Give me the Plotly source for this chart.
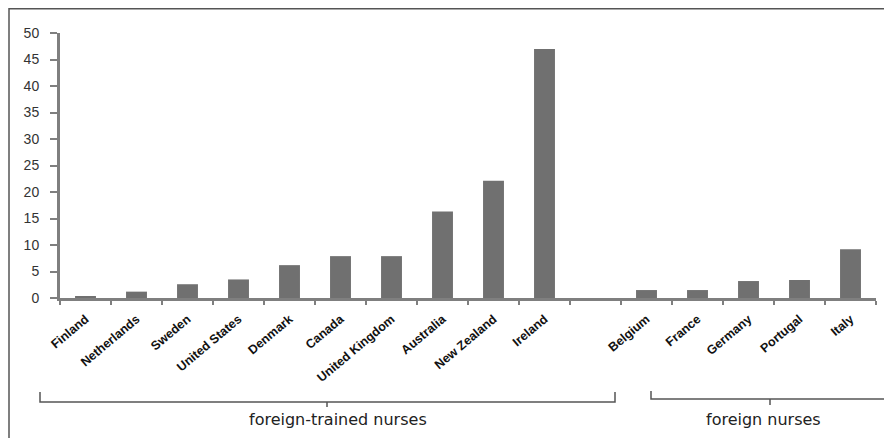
import plotly.graph_objects as go

# ---- data ----
countries = ["Finland", "Netherlands", "Sweden", "United States", "Denmark", "Canada",
             "United Kingdom", "Australia", "New Zealand", "Ireland", " ",
             "Belgium", "France", "Germany", "Portugal", "Italy"]
values = [0.3, 1.2, 2.6, 3.5, 6.2, 7.9, 7.9, 16.3, 22.1, 47.0, 0,
          1.5, 1.5, 3.2, 3.4, 9.2]
y_ticks = [0, 5, 10, 15, 20, 25, 30, 35, 40, 45, 50]
group_labels = ["foreign-trained nurses", "foreign nurses"]

# page has an 8px body margin; lay out in page coordinates and offset
OFF = 8
W, H = 892 - OFF, 438 - OFF
PL, PR, PT, PB = 60, 876, 33, 298          # plot area in page pixels
ML, MR, MT, MB = PL - OFF, (W + OFF) - PR, PT - OFF, (H + OFF) - PB
PW, PH = PR - PL, PB - PT


def px(x):
    return (x - PL) / PW


def py(y):
    return (PB - y) / PH


fig = go.Figure()
fig.add_trace(go.Bar(
    x=countries, y=values,
    marker=dict(color="#707070", line=dict(width=0)),
    hoverinfo="x+y",
))

AX = "#7f7f7f"
fig.update_layout(
    width=W, height=H,
    margin=dict(l=ML, r=MR, t=MT, b=MB),
    paper_bgcolor="white", plot_bgcolor="white",
    bargap=0.59,
    showlegend=False,
    xaxis=dict(
        type="category", categoryorder="array", categoryarray=countries,
        range=[-0.5, len(countries) - 0.5],
        tickson="boundaries", ticks="outside", ticklen=4, tickwidth=2, tickcolor=AX,
        showline=True, linecolor=AX, linewidth=3,
        showgrid=False, zeroline=False,
        tickangle=-40,
        ticklabelstandoff=6,
        tickfont=dict(family="Liberation Sans, Arial", size=12.5, color="#111"),
        tickprefix="<b>", ticksuffix="</b>",
    ),
    yaxis=dict(
        range=[0, 50], tickvals=y_ticks,
        ticks="outside", ticklen=7, tickwidth=2, tickcolor=AX,
        ticklabelstandoff=8,
        showline=True, linecolor=AX, linewidth=3,
        showgrid=False, zeroline=False,
        tickfont=dict(family="Liberation Sans, Arial", size=14, color="#333"),
    ),
)

shapes = []
# outer frame (extends beyond the right and bottom edges)
shapes.append(dict(type="rect", xref="paper", yref="paper",
                   x0=px(9), x1=px(897), y0=py(443), y1=py(8.8),
                   line=dict(color="#555", width=1.5), fillcolor="rgba(0,0,0,0)", layer="below"))


def bracket(x0, x1, xm, ytop, yline, ytick):
    p = (f"M {px(x0)},{py(ytop)} L {px(x0)},{py(yline)} L {px(x1)},{py(yline)} "
         f"L {px(x1)},{py(ytop)} M {px(xm)},{py(yline)} L {px(xm)},{py(ytick)}")
    return dict(type="path", xref="paper", yref="paper", path=p,
                line=dict(color="#555", width=1.5))


shapes.append(bracket(40, 615, 327, 392, 402, 407))
shapes.append(bracket(651, 888, 770, 391, 399, 405))
fig.update_layout(shapes=shapes)

fig.add_annotation(text=group_labels[0], xref="paper", yref="paper",
                   x=px(338), y=py(419), xanchor="center", yanchor="middle",
                   showarrow=False, font=dict(family="DejaVu Sans", size=16, color="#222"))
fig.add_annotation(text=group_labels[1], xref="paper", yref="paper",
                   x=px(763), y=py(419), xanchor="center", yanchor="middle",
                   showarrow=False, font=dict(family="DejaVu Sans", size=16, color="#222"))

fig.write_html("out.html")
